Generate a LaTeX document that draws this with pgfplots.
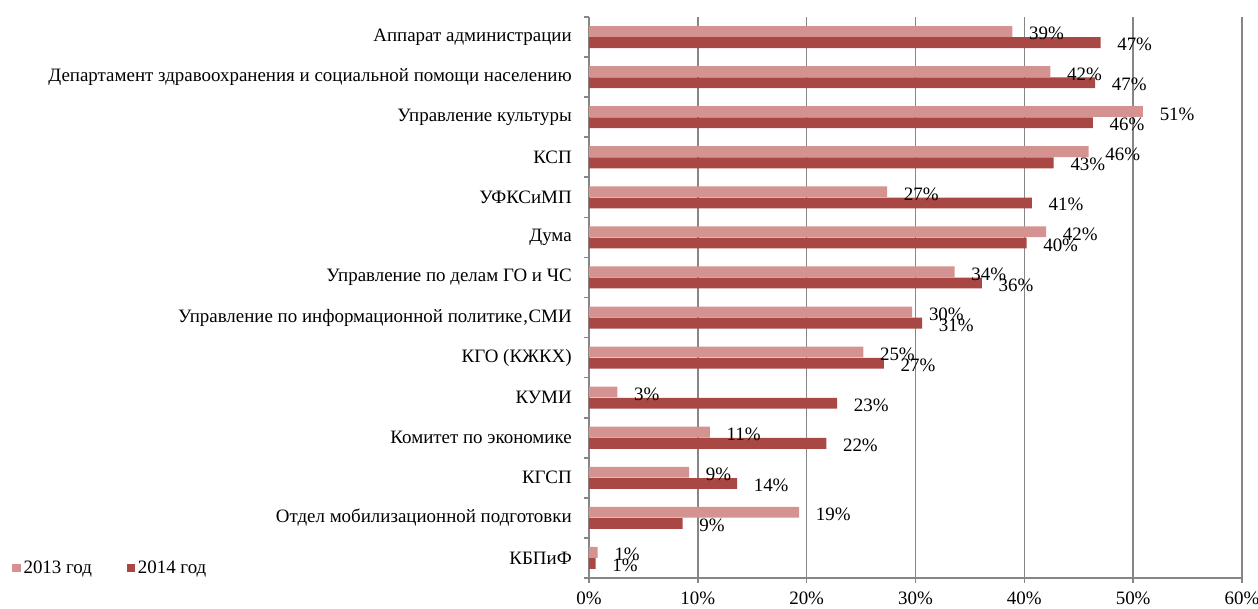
\documentclass[border=0pt]{standalone}
\usepackage{pgfplots}
\pgfplotsset{compat=1.18}
\usepackage{fontspec}
\setmainfont{Liberation Serif}
\definecolor{cA}{RGB}{212,146,145}
\definecolor{cB}{RGB}{169,71,68}
\definecolor{gridgray}{RGB}{134,134,134}
\newcommand\cf{\fontsize{14.2}{16}\selectfont}
\begin{document}
\begin{tikzpicture}
\useasboundingbox (0,0) rectangle (943.5pt,456.75pt);
\begin{axis}[
  at={(441.75pt,23.25pt)}, anchor=south west,
  width=489.75pt, height=420.75pt, scale only axis,
  xmin=0, xmax=60, ymin=-0.5, ymax=13.5,
  /pgf/number format/assume math mode=true,
  axis lines*=left,
  axis line style={gridgray, line width=1.2pt},
  xtick={0,10,...,60},
  xticklabels={0\%,10\%,20\%,30\%,40\%,50\%,60\%},
  xmajorgrids, grid style={gridgray, line width=1.2pt},
  ytick={-0.5,0.5,...,13.5}, yticklabels={},
  tick align=outside, major tick length=3.5pt,
  tick style={gridgray, line width=1.2pt},
  extra y ticks={0,1,...,13},
  extra y tick style={major tick length=0pt, tick style={draw=none}},
  extra y tick labels={КБПиФ,Отдел мобилизационной подготовки\ ,КГСП,Комитет по экономике,КУМИ,КГО (КЖКХ),Управление по информационной политике‚СМИ,Управление по делам ГО и ЧС,Дума\ ,УФКСиМП,КСП,Управление культуры,Департамент здравоохранения и социальной помощи населению\ ,Аппарат администрации\ },
  yticklabel style={font=\cf, anchor=east, inner sep=0pt, xshift=-12.75pt},
  xticklabel style={font=\cf, yshift=-3.5pt},
  bar width=0.27,
  nodes near coords={\pgfmathprintnumber[fixed,precision=0]{\pgfplotspointmeta}\%},
  point meta=x,
  every node near coord/.append style={font=\cf, anchor=west, inner sep=0pt, xshift=12.4pt, text=black},
  legend style={at={(rel axis cs:-0.8896,0.0178)}, anchor=west, draw=none, fill=none, font=\cf, legend columns=2,
    /tikz/every even column/.append style={column sep=24pt}},
  legend image code/.code={\fill[#1] (0pt,-3.2pt) rectangle (6.4pt,3.2pt);},
]
\addplot[xbar, bar shift=0.14, fill=cA, draw=none,
  every node near coord/.append style={yshift=2.4pt}] coordinates {
(0.8,0) (19.3,1) (9.2,2) (11.1,3) (2.6,4) (25.2,5) (29.7,6) (33.6,7) (42.0,8) (27.4,9) (45.9,10) (50.9,11) (42.4,12) (38.9,13)};
\addlegendentry{2013 год}
\addplot[xbar, bar shift=-0.14, fill=cB, draw=none,
  every node near coord/.append style={yshift=-5.6pt}] coordinates {
(0.6,0) (8.6,1) (13.6,2) (21.8,3) (22.8,4) (27.1,5) (30.6,6) (36.1,7) (40.2,8) (40.7,9) (42.7,10) (46.3,11) (46.5,12) (47.0,13)};
\addlegendentry{2014 год}
\end{axis}
\end{tikzpicture}
\end{document}
